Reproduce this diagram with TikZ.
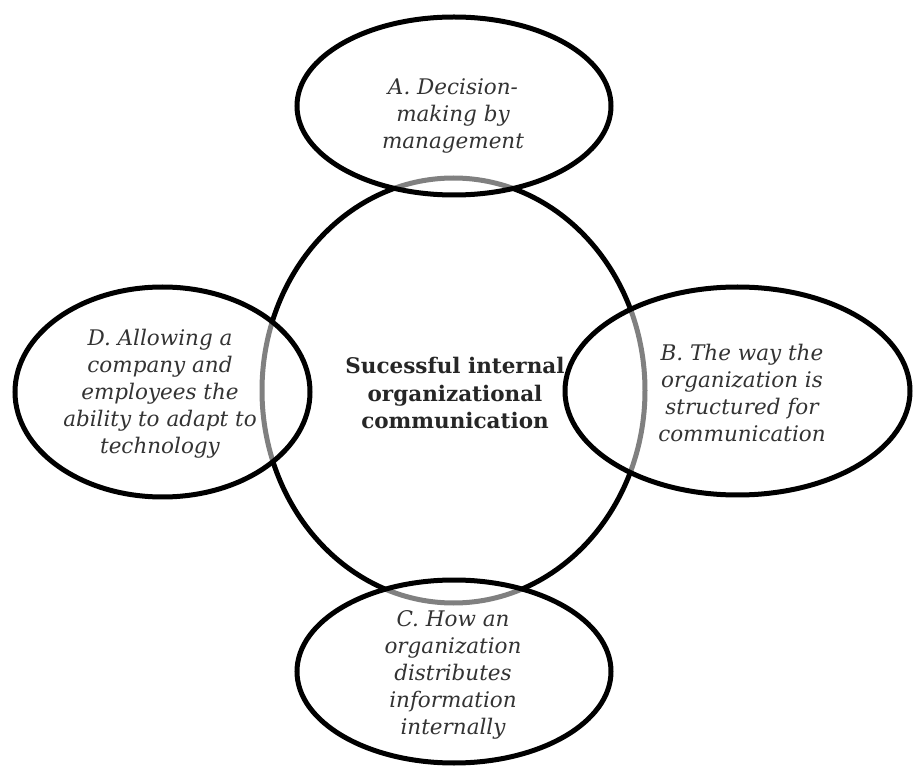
\documentclass[tikz,border=0pt]{standalone}
\usepackage{fontspec}
\setmainfont{DejaVu Serif}
\usetikzlibrary{shapes.geometric}
\begin{document}
\begin{tikzpicture}[x=1pt,y=-1pt,
  oval/.style={ellipse, draw=black, line width=5pt, inner sep=0pt},
  outer/.style={oval, fill=white, fill opacity=0.5},
  lbl/.style={align=center, font=\fontsize{21.5}{27}\selectfont\itshape, text=black!80},
  mainlbl/.style={align=center, font=\fontsize{21.5}{27.5}\selectfont\bfseries, text=black!85}]
\useasboundingbox (0,0) rectangle (914,767);
\fill[white] (0,0) rectangle (914,767);
\node[oval, minimum width=383pt, minimum height=425pt] (core) at (453.5,390.5) {};
\node[outer, minimum width=314pt, minimum height=178pt] (A) at (454,106) {};
\node[outer, minimum width=345pt, minimum height=208pt] (B) at (737.5,391) {};
\node[outer, minimum width=295pt, minimum height=210pt] (D) at (162.5,392) {};
\node[outer, minimum width=314pt, minimum height=183pt] (C) at (454,671.5) {};
\node[lbl] (tA) at (453,116) {A. Decision-\\making by\\management};
\node[lbl] (tB) at (742,393) {B. The way the\\organization is\\structured for\\communication};
\node[lbl] (tD) at (160,394) {D. Allowing a\\company and\\employees the\\ability to adapt to\\technology};
\node[lbl] (tC) at (453,675) {C. How an\\organization\\distributes\\information\\internally};
\node[mainlbl] (tM) at (455,393) {Sucessful internal\\organizational\\communication};
\end{tikzpicture}
\end{document}
